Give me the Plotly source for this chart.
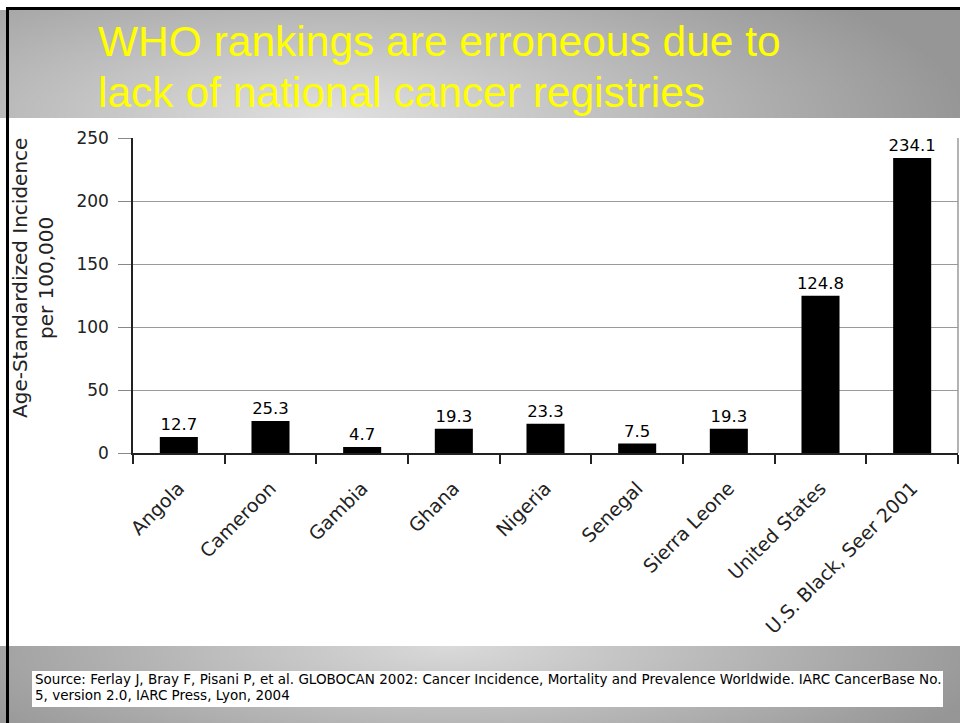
import base64
import struct
import zlib

import numpy as np
import plotly.graph_objects as go

# ---- data -------------------------------------------------------------
countries = ["Angola", "Cameroon", "Gambia", "Ghana", "Nigeria", "Senegal",
             "Sierra Leone", "United States", "U.S. Black, Seer 2001"]
incidence = [12.7, 25.3, 4.7, 19.3, 23.3, 7.5, 19.3, 124.8, 234.1]
y_ticks = [0, 50, 100, 150, 200, 250]

title_lines = ["WHO rankings are erroneous due to",
               "lack of national cancer registries"]
y_title_lines = ["Age-Standardized Incidence", "per 100,000"]
source_lines = [
    "Source: Ferlay J, Bray F, Pisani P, et al. GLOBOCAN 2002: Cancer Incidence, "
    "Mortality and Prevalence Worldwide. IARC CancerBase No.",
    "5, version 2.0, IARC Press, Lyon, 2004",
]

# ---- page geometry (pixels) ------------------------------------------
W, H = 960, 723
ML, MR, MT, MB = 133, 2, 138, 270
PW, PH = W - ML - MR, H - MT - MB

BODY_FONT = "DejaVu Sans, Verdana, sans-serif"


def px(xp):
    return (xp - ML) / PW


def py(yp):
    return (H - MB - yp) / PH


def png_uri(arr):
    """Encode an HxWx3 uint8 array as a PNG data URI."""
    h, w, _ = arr.shape
    raw = b"".join(b"\x00" + arr[r].tobytes() for r in range(h))

    def chunk(tag, data):
        c = struct.pack(">I", len(data)) + tag + data
        return c + struct.pack(">I", zlib.crc32(tag + data) & 0xFFFFFFFF)

    png = b"\x89PNG\r\n\x1a\n"
    png += chunk(b"IHDR", struct.pack(">IIBBBBB", w, h, 8, 2, 0, 0, 0))
    png += chunk(b"IDAT", zlib.compress(raw, 9))
    png += chunk(b"IEND", b"")
    return "data:image/png;base64," + base64.b64encode(png).decode()


def radial(w, h, cx, cy, rx, ry, inner, outer):
    yy, xx = np.mgrid[0:h, 0:w].astype(float)
    d = np.sqrt(((xx - cx) / rx) ** 2 + ((yy - cy) / ry) ** 2)
    t = np.clip(d, 0, 1)
    v = inner + (outer - inner) * t
    v = np.clip(v, 0, 255).astype(np.uint8)
    return np.dstack([v, v, v])


# header band y 10..118, footer band y 646..723
hdr_top, hdr_bot = 10, 118
ftr_top, ftr_bot = 646, 723
hdr = radial(W, hdr_bot - hdr_top, 330, hdr_bot - hdr_top, 640, 190, 225, 150)
ftr = radial(W, ftr_bot - ftr_top, 450, 0, 560, 150, 218, 150)

fig = go.Figure()

fig.add_trace(go.Bar(
    x=countries,
    y=incidence,
    marker=dict(color="black", line=dict(width=0)),
    text=[f"{v:.1f}" for v in incidence],
    textposition="outside",
    constraintext="none",
    textfont=dict(family=BODY_FONT, size=16.5, color="black"),
    cliponaxis=False,
    hoverinfo="skip",
))

fig.update_layout(
    width=W, height=H,
    margin=dict(l=ML, r=MR, t=MT, b=MB, autoexpand=False),
    paper_bgcolor="white",
    plot_bgcolor="white",
    showlegend=False,
    bargap=0.585,
    xaxis=dict(
        showgrid=False,
        showline=True, linecolor="#222", linewidth=1.5,
        ticks="outside", ticklen=9, tickcolor="#222", tickwidth=1.5,
        tickson="boundaries",
        tickangle=-45,
        ticklabelstandoff=15,
        tickfont=dict(family=BODY_FONT, size=19, color="#222"),
        automargin=False,
    ),
    yaxis=dict(
        range=[0, 250],
        tickvals=y_ticks,
        showgrid=True, gridcolor="#9a9a9a", gridwidth=1,
        showline=True, linecolor="#222", linewidth=1.5,
        ticks="outside", ticklen=13, tickcolor="#888", tickwidth=1,
        ticklabelstandoff=6,
        tickfont=dict(family=BODY_FONT, size=17, color="#222"),
        zeroline=False,
        automargin=False,
    ),
)

images = [
    dict(source=png_uri(hdr), xref="paper", yref="paper",
         x=px(0), y=py(hdr_top), sizex=px(W) - px(0),
         sizey=py(hdr_top) - py(hdr_bot), sizing="stretch",
         xanchor="left", yanchor="top", layer="below"),
    dict(source=png_uri(ftr), xref="paper", yref="paper",
         x=px(0), y=py(ftr_top), sizex=px(W) - px(0),
         sizey=py(ftr_top) - py(ftr_bot), sizing="stretch",
         xanchor="left", yanchor="top", layer="below"),
]
fig.update_layout(images=images)

shapes = [
    # slide frame
    dict(type="line", xref="paper", yref="paper", x0=px(6), x1=px(W),
         y0=py(8.5), y1=py(8.5), line=dict(color="black", width=3)),
    dict(type="line", xref="paper", yref="paper", x0=px(7.5), x1=px(7.5),
         y0=py(7), y1=py(H), line=dict(color="black", width=3)),
    # right edge of the plot box
    dict(type="line", xref="paper", yref="paper", x0=1, x1=1, y0=0, y1=1,
         line=dict(color="#9a9a9a", width=1.5)),
    # white source box in the footer
    dict(type="rect", xref="paper", yref="paper", x0=px(32), x1=px(943),
         y0=py(671), y1=py(707), fillcolor="white", line=dict(width=0),
         layer="above"),
]
fig.update_layout(shapes=shapes)

annotations = []
for i, line in enumerate(title_lines):
    annotations.append(dict(
        text=line, xref="paper", yref="paper",
        x=px(96), y=py(42 + 50 * i), xanchor="left", yanchor="middle",
        showarrow=False,
        font=dict(family="Liberation Sans, Arial, sans-serif", size=42.5,
                  color="#ffff00"),
    ))
for i, (line, xc) in enumerate(zip(y_title_lines, [20, 46])):
    annotations.append(dict(
        text=line, xref="paper", yref="paper",
        x=px(xc), y=py(278), xanchor="center", yanchor="middle",
        textangle=-90, showarrow=False,
        font=dict(family=BODY_FONT, size=20, color="#222"),
    ))
for i, line in enumerate(source_lines):
    annotations.append(dict(
        text=line, xref="paper", yref="paper",
        x=px(33), y=py(679 + 15.5 * i), xanchor="left", yanchor="middle",
        showarrow=False,
        font=dict(family=BODY_FONT, size=13.5, color="black"),
    ))
fig.update_layout(annotations=annotations)

fig.write_html("out.html")
